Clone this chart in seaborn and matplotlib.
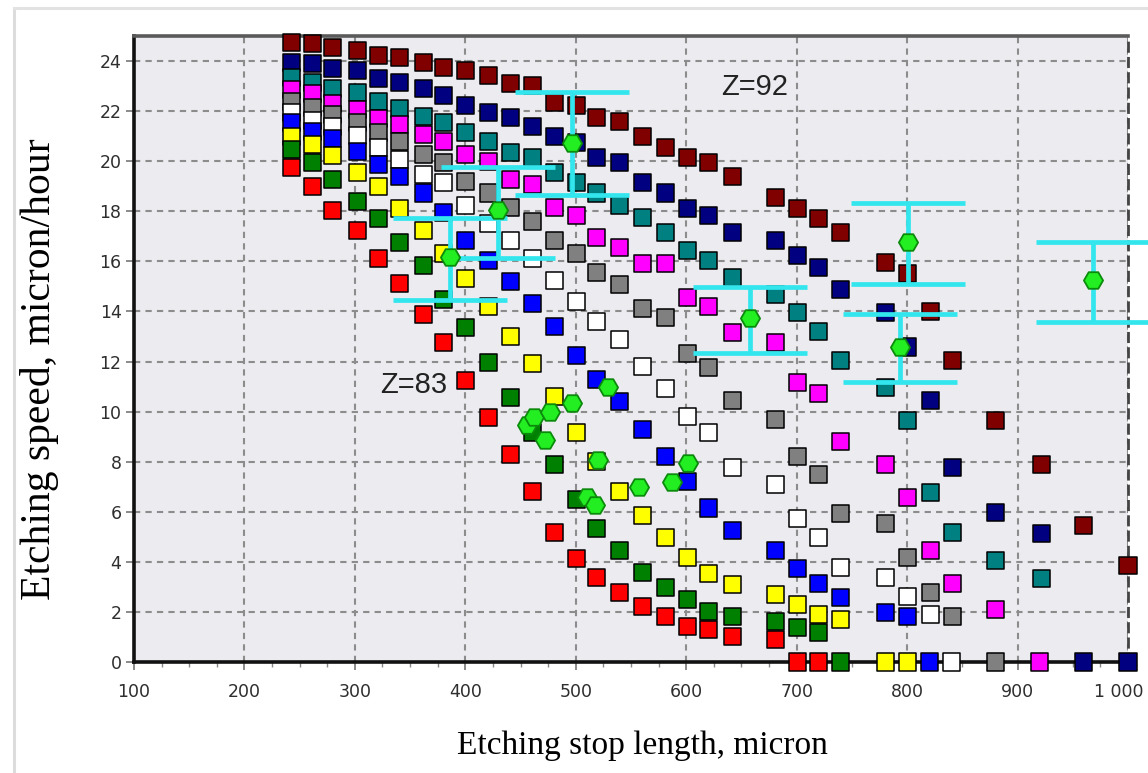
import matplotlib
matplotlib.use("Agg")
import matplotlib.pyplot as plt
import seaborn as sns
import pandas as pd
from matplotlib.lines import Line2D
from matplotlib.ticker import MultipleLocator, FixedLocator, FixedFormatter

# ---------------- data ----------------
cols = [243, 262, 280, 302, 321, 340, 362, 380, 400, 421, 441, 461, 481, 501, 519,
        540, 560, 581, 601, 620, 642, 681, 701, 720, 740, 780, 800, 821, 841, 880,
        922, 960, 1000]

darkred_y = [24.76, 24.72, 24.56, 24.44, 24.24, 24.16, 23.96, 23.76, 23.64, 23.44, 23.12,
             23.04, 22.36, 22.24, 21.73, 21.57, 20.97, 20.53, 20.13, 19.93, 19.37, 18.57,
             18.13, 17.73, 17.17, 15.97, 15.5, 13.98, 12.06, 9.66, 7.87, 5.47, 3.87]
navy_y = [23.96, 23.92, 23.72, 23.64, 23.32, 23.16, 22.92, 22.64, 22.24, 21.93, 21.73,
          21.37, 20.97, 20.73, 20.13, 19.93, 19.15, 18.73, 18.13, 17.85, 17.17, 16.85,
          16.25, 15.77, 14.86, 13.94, 12.58, 10.46, 7.75, 5.99, 5.15]
teal_y = [23.36, 23.16, 22.92, 22.76, 22.40, 22.12, 21.77, 21.53, 21.13, 20.77, 20.33,
          20.13, 19.53, 19.13, 18.73, 18.25, 17.77, 17.17, 16.45, 16.05, 15.37, 14.66,
          13.94, 13.18, 12.06, 10.98, 9.66, 6.75, 5.19, 4.07, 3.35]
magenta_y = [22.88, 22.72, 22.32, 22.08, 21.69, 21.45, 21.05, 20.77, 20.25, 19.97, 19.25,
             19.05, 18.17, 17.85, 16.97, 16.57, 15.93, 15.93, 14.54, 14.18, 13.14, 12.74,
             11.18, 10.74, 8.79, 7.87, 6.55, 4.47, 3.15, 2.08]
gray_y = [22.40, 22.16, 21.85, 21.53, 21.13, 20.77, 20.25, 19.93, 19.17, 18.73, 18.17,
          17.6, 16.85, 16.33, 15.57, 15.06, 14.1, 13.74, 12.34, 11.78, 10.46, 9.7,
          8.19, 7.47, 5.95, 5.55, 4.19, 2.76, 1.8]
white_y = [21.96, 21.61, 21.37, 21.01, 20.53, 20.05, 19.45, 19.13, 18.25, 17.5, 16.85,
           16.13, 15.25, 14.4, 13.58, 12.86, 11.82, 10.94, 9.8, 9.17, 7.75, 7.1,
           5.75, 4.99, 3.79, 3.39, 2.6, 1.88]
blue_y = [21.53, 21.17, 20.89, 20.37, 19.85, 19.37, 18.73, 17.97, 16.85, 16.05, 15.18,
          14.3, 13.38, 12.26, 11.3, 10.4, 9.27, 8.19, 7.2, 6.15, 5.27, 4.45,
          3.75, 3.15, 2.56, 1.96, 1.8]
yellow_y = [20.97, 20.65, 20.21, 19.53, 18.97, 18.13, 17.25, 16.33, 15.33, 14.18, 12.98,
            11.94, 10.6, 9.15, 8.0, 6.79, 5.87, 4.99, 4.19, 3.55, 3.1, 2.68,
            2.28, 1.88, 1.68]
green_y = [20.45, 19.93, 19.25, 18.4, 17.7, 16.77, 15.85, 14.46, 13.34, 11.98, 10.58,
           9.15, 7.87, 6.47, 5.35, 4.47, 3.59, 2.99, 2.48, 2.0, 1.8, 1.6, 1.36, 1.16]
red_y = [19.73, 18.97, 18.05, 17.25, 16.13, 15.13, 13.86, 12.74, 11.26, 9.78, 8.27,
         6.79, 5.19, 4.15, 3.39, 2.76, 2.2, 1.8, 1.4, 1.28, 1.0, 0.88]

# points lying on the zero line (x positions)
darkred_zero_x = []
navy_zero_x = [960, 1000]
teal_zero_x = []
magenta_zero_x = [920]
gray_zero_x = [880]
white_zero_x = [840]
blue_zero_x = [820]
yellow_zero_x = [780, 800]
green_zero_x = [740]
red_zero_x = [701, 720]

series_order = ["darkred", "navy", "teal", "magenta", "gray", "white",
                "blue", "yellow", "green", "red"]
series_vals = [darkred_y, navy_y, teal_y, magenta_y, gray_y, white_y,
               blue_y, yellow_y, green_y, red_y]
series_zero = [darkred_zero_x, navy_zero_x, teal_zero_x, magenta_zero_x, gray_zero_x,
               white_zero_x, blue_zero_x, yellow_zero_x, green_zero_x, red_zero_x]
palette = {"darkred": "#800000", "navy": "#000080", "teal": "#008080",
           "magenta": "#ff00ff", "gray": "#808080", "white": "#ffffff",
           "blue": "#0000ff", "yellow": "#ffff00", "green": "#008000", "red": "#ff0000"}

# measured points with error bars
eb_x = [497, 430, 386, 658, 801, 794, 968]
eb_y = [20.73, 18.05, 16.17, 13.74, 16.77, 12.58, 15.26]
eb_lo = [2.08, 1.92, 1.71, 1.40, 1.67, 1.40, 1.68]
eb_hi = [2.03, 1.72, 1.56, 1.24, 1.56, 1.32, 1.51]

# measured points without error bars
gd_x = [456, 462, 477, 497, 472, 529, 520, 510, 517, 557, 587, 602]
gd_y = [9.46, 9.78, 9.98, 10.34, 8.87, 10.98, 8.07, 6.59, 6.27, 6.99, 7.19, 7.95]

x_ticks = [100, 200, 300, 400, 500, 600, 700, 800, 900, 1000]
x_ticklabels = ["100", "200", "300", "400", "500", "600", "700", "800", "900", "1 000"]
y_ticks = list(range(0, 25, 2))

# ---------------- build frame ----------------
frames = []
for name, ys, zx in zip(series_order, series_vals, series_zero):
    xs = cols[:len(ys)] + zx
    yv = ys + [0.0] * len(zx)
    frames.append(pd.DataFrame({"x": xs, "y": yv, "series": name}))
df = pd.concat(frames, ignore_index=True)

# ---------------- figure ----------------
W, H = 1148, 773
fig = plt.figure(figsize=(W / 100, H / 100), dpi=100)
fig.patch.set_facecolor("white")

# light outer frame of the original picture
fig.add_artist(Line2D([14 / W, 14 / W], [0, (H - 8) / H], transform=fig.transFigure,
                      color="#dcdcdc", linewidth=2.2))
fig.add_artist(Line2D([14 / W, 1], [(H - 8) / H, (H - 8) / H], transform=fig.transFigure,
                      color="#e2e2e2", linewidth=2.2))

ax = fig.add_axes([134 / W, (H - 662) / H, (1128 - 134) / W, (662 - 36) / H])
ax.set_facecolor("#ebebf0")

ax.set_xlim(100, 1000)
ax.set_ylim(0, 25)

ax.grid(True, which="major", color="#8c8c8c", linestyle=(0, (3, 2.5)), linewidth=1.5, zorder=0)
ax.set_axisbelow(True)

sns.scatterplot(data=df, x="x", y="y", hue="series", hue_order=series_order,
                palette=palette, marker="s", s=150, edgecolor="black", linewidth=1.1,
                legend=False, ax=ax, zorder=2, clip_on=False)

cont = ax.errorbar(eb_x, eb_y, yerr=[eb_lo, eb_hi], fmt="none", ecolor="#33e6ee",
                   elinewidth=3.4, capsize=41, capthick=3.4, zorder=3)
for art in list(cont.lines[1]) + list(cont.lines[2]):
    art.set_clip_on(False)

sns.scatterplot(x=eb_x, y=eb_y, marker="H", s=190, color="#22ee22", edgecolor="#0b8a0b",
                linewidth=1.3, ax=ax, zorder=4, legend=False)
sns.scatterplot(x=gd_x, y=gd_y, marker="H", s=190, color="#22ee22", edgecolor="#0b8a0b",
                linewidth=1.3, ax=ax, zorder=4, legend=False)

ax.text(662, 22.96, "Z=92", fontsize=21, family="Liberation Sans", color="#222222",
        ha="center", va="center", zorder=5)
ax.text(353, 11.06, "Z=83", fontsize=21, family="Liberation Sans", color="#222222",
        ha="center", va="center", zorder=5)

# spines
for side in ["left", "bottom"]:
    ax.spines[side].set_color("#111111")
    ax.spines[side].set_linewidth(2.6)
ax.spines["top"].set_color("#5a5a5a")
ax.spines["top"].set_linewidth(2.6)
ax.spines["right"].set_color("#444444")
ax.spines["right"].set_linewidth(2.0)
ax.spines["right"].set_linestyle((0, (3, 2.5)))
for sp in ax.spines.values():
    sp.set_zorder(1.5)

# ticks (the last x label is placed by hand so that it stays inside the picture)
ax.xaxis.set_major_locator(FixedLocator(x_ticks))
ax.xaxis.set_major_formatter(FixedFormatter(x_ticklabels[:-1] + [""]))
ax.xaxis.set_minor_locator(MultipleLocator(25))
ax.yaxis.set_major_locator(FixedLocator(y_ticks))
ax.tick_params(axis="both", which="major", labelsize=12.5, labelcolor="#2e2e2e",
               color="#777777", direction="out")
ax.tick_params(axis="x", which="major", length=6, width=1.2, pad=9)
ax.tick_params(axis="x", which="minor", length=3.5, width=1.0, color="#888888")
ax.tick_params(axis="y", which="major", length=6, width=1.2, pad=3)
for lab in ax.get_xticklabels() + ax.get_yticklabels():
    lab.set_family("DejaVu Sans")

ax.annotate(x_ticklabels[-1], xy=(x_ticks[-1], 0), xycoords=("data", "axes fraction"),
            xytext=(-7, -15), textcoords="offset points", ha="center", va="top",
            fontsize=12.5, family="DejaVu Sans", color="#2e2e2e", annotation_clip=False)

ax.set_xlabel("Etching stop length, micron", fontsize=24, family="Liberation Serif",
              color="black", va="center")
ax.xaxis.set_label_coords(0.512, -0.134)
ax.set_ylabel("Etching speed, micron/hour", fontsize=30, family="Liberation Serif",
              color="black", va="center")
ax.yaxis.set_label_coords(-0.095, 0.468)

fig.savefig("out.png", dpi=100, facecolor="white")
